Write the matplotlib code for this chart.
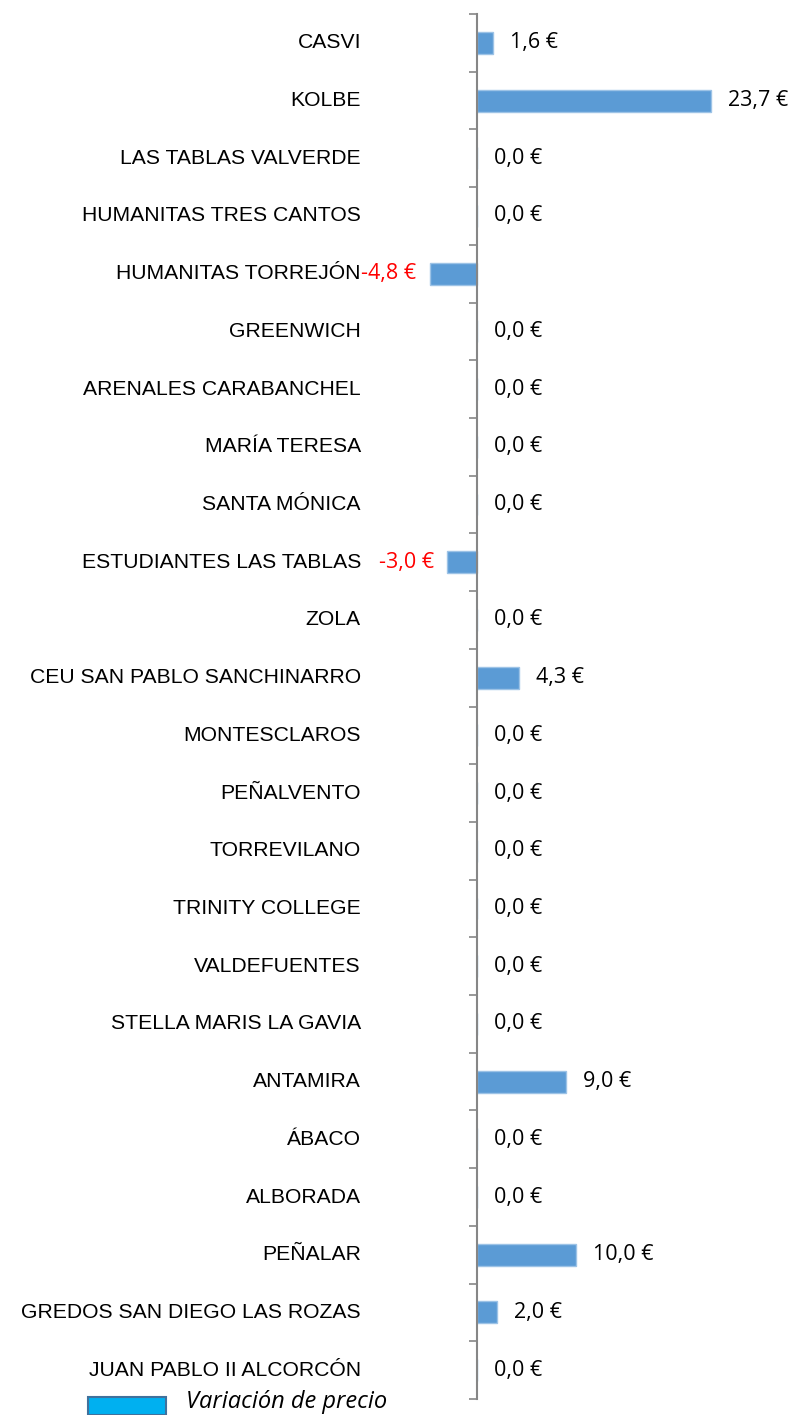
"""Variación de precio por colegio — barras horizontales"""
import matplotlib
matplotlib.use("Agg")
import matplotlib.pyplot as plt
import matplotlib.patches as mpatches
import numpy as np

colegios = [
    "CASVI", "KOLBE", "LAS TABLAS VALVERDE", "HUMANITAS TRES CANTOS",
    "HUMANITAS TORREJÓN", "GREENWICH", "ARENALES CARABANCHEL", "MARÍA TERESA",
    "SANTA MÓNICA", "ESTUDIANTES LAS TABLAS", "ZOLA", "CEU SAN PABLO SANCHINARRO",
    "MONTESCLAROS", "PEÑALVENTO", "TORREVILANO", "TRINITY COLLEGE",
    "VALDEFUENTES", "STELLA MARIS LA GAVIA", "ANTAMIRA", "ÁBACO",
    "ALBORADA", "PEÑALAR", "GREDOS SAN DIEGO LAS ROZAS", "JUAN PABLO II ALCORCÓN",
]
variacion = [
    1.6, 23.7, 0.0, 0.0,
    -4.8, 0.0, 0.0, 0.0,
    0.0, -3.0, 0.0, 4.3,
    0.0, 0.0, 0.0, 0.0,
    0.0, 0.0, 9.0, 0.0,
    0.0, 10.0, 2.0, 0.0,
]

W, H = 789, 1415
fig = plt.figure(figsize=(W / 100, H / 100), dpi=100)
# eje vertical en x=477 px, de y=14 a y=1399 px
x0, x1 = -10.0, 30.0
ppu = 9.87
left_px = 477 + x0 * ppu
ax = fig.add_axes([left_px / W, 1 - 1399 / H, (x1 - x0) * ppu / W, 1385 / H])

n = len(colegios)
ypos = np.arange(n)
ax.barh(ypos, variacion, height=0.38, color="#5B9BD5", edgecolor="#9DC3E6", linewidth=1)
ax.set_xlim(x0, x1)
ax.set_ylim(n - 0.5, -0.5)

for s in ["top", "right", "bottom"]:
    ax.spines[s].set_visible(False)
ax.spines["left"].set_position(("data", 0))
ax.spines["left"].set_color("#868686")
ax.spines["left"].set_linewidth(1.5)
ax.set_xticks([])
ax.set_yticks(np.arange(n + 1) - 0.5)
ax.set_yticklabels([])
ax.tick_params(axis="y", length=6, width=1.2, color="#868686", direction="out")

trans = ax.get_yaxis_transform()
lab_x = (361 - left_px) / ((x1 - x0) * ppu)
for y, name in zip(ypos, colegios):
    ax.text(lab_x, y, name, transform=trans, ha="right", va="center",
            fontsize=15.2, family="Liberation Sans", color="black")

for y, v in zip(ypos, variacion):
    txt = f"{v:.1f} €".replace(".", ",")
    if v < 0:
        ax.annotate(txt, (v, y), xytext=(-13, 0), textcoords="offset pixels",
                    ha="right", va="center", fontsize=15.5, family="Open Sans", color="red")
    else:
        ax.annotate(txt, (v, y), xytext=(17, 0), textcoords="offset pixels",
                    ha="left", va="center", fontsize=15.5, family="Open Sans", color="black")

# leyenda (recortada en el borde inferior)
fig.patches.append(mpatches.Rectangle((88 / W, 0), 78 / W, 18 / H, transform=fig.transFigure,
                                      facecolor="#00B0F0", edgecolor="#41719C", linewidth=1.5))
fig.text(186 / W, 1 - 1408 / H, "Variación de precio", fontsize=17, style="italic",
         family="Open Sans", ha="left", va="baseline")

plt.savefig("out.png", dpi=100)
plt.close()
